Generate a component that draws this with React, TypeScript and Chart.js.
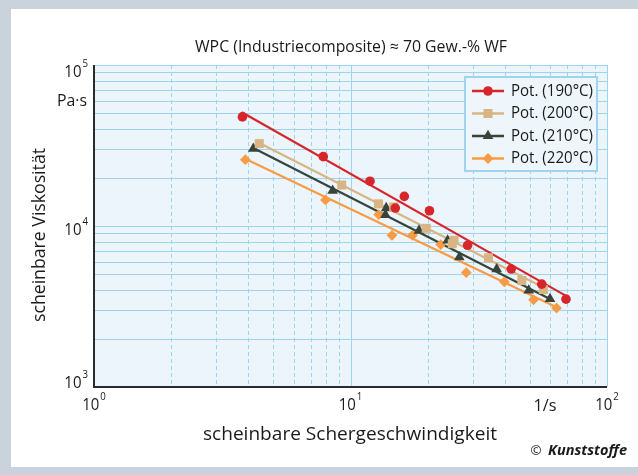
import React, { useEffect, useRef } from 'react';
import { Chart, registerables } from 'chart.js';

Chart.register(...registerables);

const W = 638;
const H = 475;

// ---------- texts ----------
const titleText = 'WPC (Industriecomposite) ≈ 70 Gew.-% WF';
const xTitle = 'scheinbare Schergeschwindigkeit';
const yTitle = 'scheinbare Viskosität';
const yUnit = 'Pa·s';
const xUnit = '1/s';
const creditMark = '©';
const creditText = 'Kunststoffe';

// ---------- ticks ----------
const xTickValues = [1, 10, 100];
const xTickExps = ['0', '1', '2'];
const yTickValues = [1000, 10000, 100000];
const yTickExps = ['3', '4', '5'];
const gridMultiples = [1, 2, 3, 4, 5, 6, 7, 8, 9];

// ---------- series ----------
const seriesNames = ['Pot. (190°C)', 'Pot. (200°C)', 'Pot. (210°C)', 'Pot. (220°C)'];
const seriesColors = ['#d7262b', '#d8b584', '#38443a', '#f79b44'];
const seriesPointStyles = ['circle', 'rect', 'triangle', 'rectRot'];
const seriesPointRadii = [4.8, 6.4, 6.2, 5.4];

// 190 °C
const rate190 = [3.79, 7.83, 11.91, 16.21, 14.95, 20.32, 28.61, 42.32, 55.66, 69.21];
const visc190 = [47620, 26970, 18980, 15270, 12930, 12440, 7591, 5405, 4354, 3513];
const trendRate190 = [3.77, 69.21];
const trendVisc190 = [50860, 3683];

// 200 °C
const rate200 = [4.41, 9.24, 12.86, 14.74, 19.73, 25.32, 24.94, 34.51, 46.54, 56.47];
const visc200 = [32490, 17970, 13720, 13120, 9670, 8154, 7757, 6345, 4584, 4030];
const trendRate200 = [4.41, 57.33];
const trendVisc200 = [32810, 4111];

// 210 °C
const rate210 = [4.18, 8.52, 13.78, 13.69, 18.5, 23.92, 26.56, 37.15, 49.53, 59.94];
const visc210 = [30240, 16570, 12930, 11720, 9370, 8130, 6408, 5397, 3984, 3528];
const trendRate210 = [4.18, 60.2];
const trendVisc210 = [30540, 3503];

// 220 °C
const rate220 = [3.89, 7.99, 12.88, 14.51, 17.45, 22.47, 28.28, 39.79, 51.7, 63.56];
const visc220 = [25830, 14520, 11780, 8746, 8746, 7668, 5140, 4499, 3477, 3092];
const trendRate220 = [3.9, 63.56];
const trendVisc220 = [26090, 3124];

const pointRates = [rate190, rate200, rate210, rate220];
const pointViscs = [visc190, visc200, visc210, visc220];
const trendRates = [trendRate190, trendRate200, trendRate210, trendRate220];
const trendViscs = [trendVisc190, trendVisc200, trendVisc210, trendVisc220];

// ---------- styling ----------
const FONT = '"Open Sans", "Noto Sans", "DejaVu Sans", sans-serif';
const TEXT_COLOR = '#1a1a1a';
const FRAME_GREY = '#cad3db';
const PLOT_BG = '#ecf5fc';
const GRID_BLUE = '#9fd4ee';
const AXIS_DARK = '#2b2b2b';

function fitText(
  ctx: CanvasRenderingContext2D,
  text: string,
  x: number,
  y: number,
  size: number,
  width: number | null,
  align: CanvasTextAlign,
  weight = 'normal',
  style = 'normal',
  sxDefault = 1
) {
  ctx.save();
  ctx.font = `${style} ${weight} ${size}px ${FONT}`;
  const w = ctx.measureText(text).width;
  const sx = width && w > 0 ? width / w : sxDefault;
  ctx.translate(x, y);
  ctx.scale(sx, 1);
  ctx.textBaseline = 'middle';
  ctx.textAlign = align;
  ctx.fillStyle = TEXT_COLOR;
  ctx.fillText(text, 0, 0);
  ctx.restore();
}

function powerLabel(
  ctx: CanvasRenderingContext2D,
  x: number,
  y: number,
  exp: string,
  align: 'center' | 'right'
) {
  const sx = 0.88;
  ctx.save();
  ctx.font = `17px ${FONT}`;
  const w1 = ctx.measureText('10').width * sx;
  ctx.font = `11px ${FONT}`;
  const w2 = ctx.measureText(exp).width * sx;
  const total = w1 + 1 + w2;
  const start = align === 'center' ? x - total / 2 : x - total;
  ctx.restore();
  fitText(ctx, '10', start, y, 17, null, 'left', 'normal', 'normal', sx);
  fitText(ctx, exp, start + w1 + 1, y - 8, 11, null, 'left', 'normal', 'normal', sx);
}

function drawMarker(
  ctx: CanvasRenderingContext2D,
  style: string,
  x: number,
  y: number,
  r: number,
  color: string
) {
  ctx.save();
  ctx.fillStyle = color;
  ctx.beginPath();
  if (style === 'circle') {
    ctx.arc(x, y, r, 0, Math.PI * 2);
  } else if (style === 'rect') {
    const s = r * Math.SQRT1_2;
    ctx.rect(x - s, y - s, 2 * s, 2 * s);
  } else if (style === 'triangle') {
    for (let k = 0; k < 3; k++) {
      const a = (k * 2 * Math.PI) / 3;
      const px = x + Math.sin(a) * r;
      const py = y - Math.cos(a) * r;
      if (k === 0) ctx.moveTo(px, py);
      else ctx.lineTo(px, py);
    }
  } else {
    ctx.moveTo(x, y - r);
    ctx.lineTo(x + r, y);
    ctx.lineTo(x, y + r);
    ctx.lineTo(x - r, y);
  }
  ctx.closePath();
  ctx.fill();
  ctx.restore();
}

const decorPlugin = {
  id: 'decor',
  beforeDraw(chart: any) {
    const ctx: CanvasRenderingContext2D = chart.ctx;
    const { left, top, right, bottom } = chart.chartArea;
    const xs = chart.scales.x;
    const ys = chart.scales.y;
    ctx.save();
    ctx.fillStyle = '#ffffff';
    ctx.fillRect(0, 0, W, H);
    ctx.fillStyle = FRAME_GREY;
    ctx.fillRect(0, 0, W, 9);
    ctx.fillRect(0, 0, 11, H);
    ctx.fillRect(0, 467, W, H - 467);
    ctx.fillStyle = PLOT_BG;
    ctx.fillRect(left, top, right - left, bottom - top);

    // horizontal grid (solid)
    ctx.strokeStyle = GRID_BLUE;
    ctx.lineWidth = 1;
    for (let d = 0; d < yTickValues.length; d++) {
      for (const m of gridMultiples) {
        const v = yTickValues[d] * m;
        if (v > yTickValues[yTickValues.length - 1]) continue;
        const py = Math.round(ys.getPixelForValue(v)) + 0.5;
        ctx.beginPath();
        ctx.moveTo(left, py);
        ctx.lineTo(right, py);
        ctx.stroke();
      }
    }
    // vertical grid: dashed minors, solid decades
    for (let d = 0; d < xTickValues.length; d++) {
      for (const m of gridMultiples) {
        const v = xTickValues[d] * m;
        if (v > xTickValues[xTickValues.length - 1]) continue;
        const px = Math.round(xs.getPixelForValue(v)) + 0.5;
        ctx.beginPath();
        ctx.setLineDash(m === 1 ? [] : [4, 3]);
        ctx.moveTo(px, top);
        ctx.lineTo(px, bottom);
        ctx.stroke();
      }
    }
    ctx.setLineDash([]);
    // axes
    ctx.strokeStyle = AXIS_DARK;
    ctx.lineWidth = 2;
    ctx.beginPath();
    ctx.moveTo(left, top);
    ctx.lineTo(left, bottom);
    ctx.lineTo(right, bottom);
    ctx.stroke();
    ctx.restore();
  },
  afterDraw(chart: any) {
    const ctx: CanvasRenderingContext2D = chart.ctx;
    const { left, bottom } = chart.chartArea;
    const xs = chart.scales.x;
    const ys = chart.scales.y;

    // title
    fitText(ctx, titleText, 351, 47, 16, 312, 'center');
    // axis titles
    fitText(ctx, xTitle, 350, 435, 19, 294, 'center');
    ctx.save();
    ctx.translate(40, 235);
    ctx.rotate(-Math.PI / 2);
    fitText(ctx, yTitle, 0, 0, 19, 174, 'center');
    ctx.restore();

    // y tick labels
    const yOffsets = [-4, 4, 7];
    yTickValues.forEach((v, i) => {
      powerLabel(ctx, left - 6, ys.getPixelForValue(v) + yOffsets[i], yTickExps[i], 'right');
    });
    fitText(ctx, yUnit, left - 7, 101, 16, 30, 'right');

    // x tick labels
    xTickValues.forEach((v, i) => {
      powerLabel(ctx, xs.getPixelForValue(v), bottom + 18, xTickExps[i], 'center');
    });
    fitText(ctx, xUnit, 545, bottom + 19, 16, 23, 'center');

    // credit
    fitText(ctx, creditMark, 536, 451, 13, 11, 'center');
    fitText(ctx, creditText, 548, 451, 15, 79, 'left', 'bold', 'italic');

    // legend
    const bx = 465, by = 77, bw = 132, bh = 94;
    ctx.save();
    ctx.fillStyle = '#eef6fc';
    ctx.fillRect(bx, by, bw, bh);
    ctx.strokeStyle = GRID_BLUE;
    ctx.lineWidth = 2;
    ctx.strokeRect(bx, by, bw, bh);
    ctx.restore();
    seriesNames.forEach((name, i) => {
      const ry = 91 + i * 22.5;
      ctx.save();
      ctx.strokeStyle = seriesColors[i];
      ctx.lineWidth = 2.5;
      ctx.beginPath();
      ctx.moveTo(472, ry);
      ctx.lineTo(504, ry);
      ctx.stroke();
      ctx.restore();
      drawMarker(ctx, seriesPointStyles[i], 488, ry, seriesPointRadii[i], seriesColors[i]);
      fitText(ctx, name, 511, ry, 16.5, 82, 'left');
    });
  },
};

export default function App() {
  const ref = useRef<HTMLCanvasElement>(null);

  useEffect(() => {
    document.body.style.margin = '0';
    if (!ref.current) return;
    const datasets: any[] = [];
    seriesNames.forEach((name, i) => {
      datasets.push({
        label: name,
        data: pointRates[i].map((x, j) => ({ x, y: pointViscs[i][j] })),
        showLine: false,
        pointStyle: seriesPointStyles[i],
        pointRadius: seriesPointRadii[i],
        backgroundColor: seriesColors[i],
        borderColor: seriesColors[i],
        borderWidth: 0,
        order: 0,
      });
    });
    seriesNames.forEach((name, i) => {
      datasets.push({
        label: name + ' trend',
        data: trendRates[i].map((x, j) => ({ x, y: trendViscs[i][j] })),
        showLine: true,
        pointRadius: 0,
        borderColor: seriesColors[i],
        borderWidth: 2.2,
        order: 1,
      });
    });

    const chart = new Chart(ref.current, {
      type: 'scatter',
      data: { datasets },
      options: {
        animation: false,
        responsive: false,
        devicePixelRatio: 1,
        events: [],
        layout: { padding: { left: 94, top: 65, right: 31, bottom: 88 } },
        scales: {
          x: { type: 'logarithmic', min: 1, max: 100, display: false },
          y: { type: 'logarithmic', min: 1000, max: 100000, display: false },
        },
        plugins: {
          legend: { display: false },
          tooltip: { enabled: false },
          title: { display: false },
        },
      },
      plugins: [decorPlugin],
    } as any);
    return () => chart.destroy();
  }, []);

  return (
    <div style={{ position: 'absolute', left: 0, top: 0, width: W, height: H }}>
      <canvas ref={ref} width={W} height={H} style={{ display: 'block', width: W, height: H }} />
    </div>
  );
}
